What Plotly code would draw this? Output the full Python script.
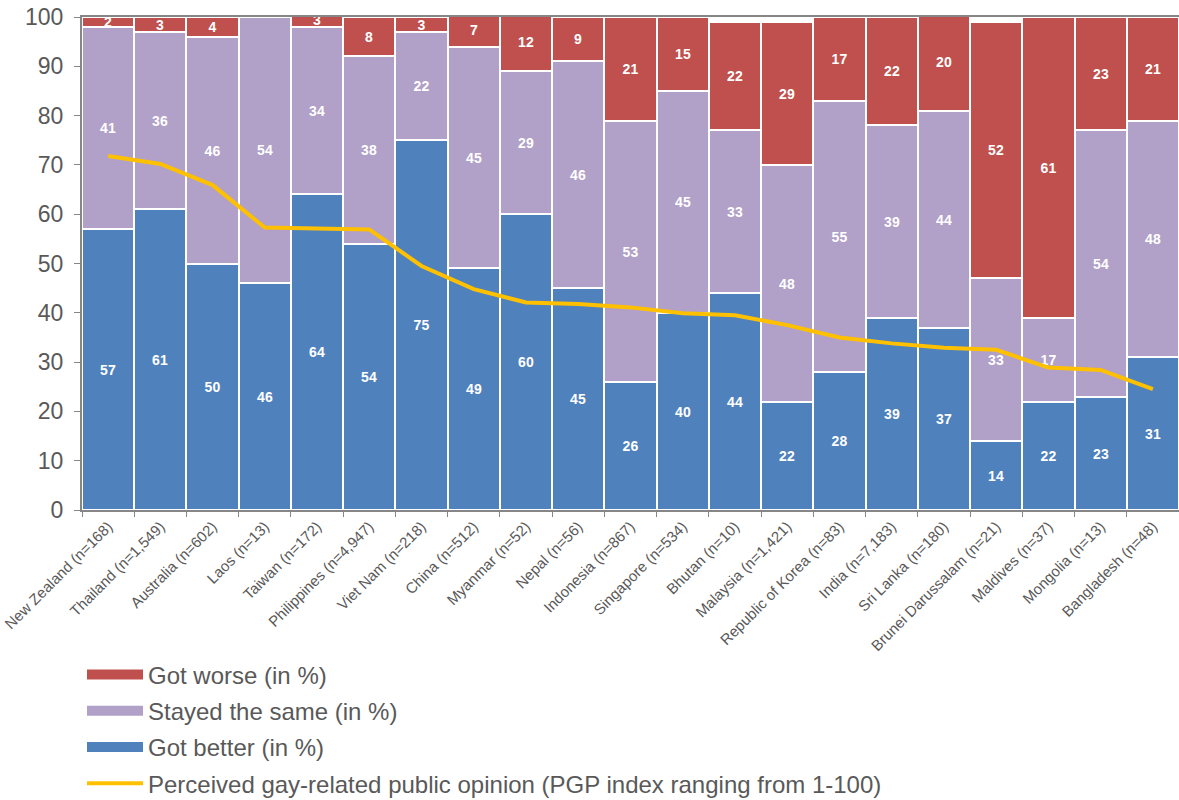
import plotly.graph_objects as go

countries = [
    "New Zealand (n=168)", "Thailand (n=1,549)", "Australia (n=602)", "Laos (n=13)",
    "Taiwan (n=172)", "Philippines (n=4,947)", "Viet Nam (n=218)", "China (n=512)",
    "Myanmar (n=52)", "Nepal (n=56)", "Indonesia (n=867)", "Singapore (n=534)",
    "Bhutan (n=10)", "Malaysia (n=1,421)", "Republic of Korea (n=83)", "India (n=7,183)",
    "Sri Lanka (n=180)", "Brunei Darussalam (n=21)", "Maldives (n=37)",
    "Mongolia (n=13)", "Bangladesh (n=48)",
]
got_better = [57, 61, 50, 46, 64, 54, 75, 49, 60, 45, 26, 40, 44, 22, 28, 39, 37, 14, 22, 23, 31]
stayed_same = [41, 36, 46, 54, 34, 38, 22, 45, 29, 46, 53, 45, 33, 48, 55, 39, 44, 33, 17, 54, 48]
got_worse = [2, 3, 4, 0, 3, 8, 3, 7, 12, 9, 21, 15, 22, 29, 17, 22, 20, 52, 61, 23, 21]
pgp_index = [71.8, 70.2, 65.9, 57.3, 57.1, 56.9, 49.5, 44.8, 42.1, 41.8, 41.1, 39.9,
             39.5, 37.5, 35.0, 33.8, 32.9, 32.5, 28.9, 28.4, 24.5]

FONT = "Liberation Sans, Arial, sans-serif"
GREY = "#595959"
BLUE, PURPLE, RED, GOLD = "#4F81BD", "#B1A0C7", "#C0504D", "#FFC000"

fig = go.Figure()

# stacked bars (legend entries are drawn by the swatch traces below)
for name, values, color in [
    ("Got better (in %)", got_better, BLUE),
    ("Stayed the same (in %)", stayed_same, PURPLE),
    ("Got worse (in %)", got_worse, RED),
]:
    fig.add_trace(go.Bar(
        x=countries, y=values, name=name, showlegend=False,
        marker=dict(color=color, line=dict(color="white", width=2)),
        text=[str(v) if v > 0 else "" for v in values],
        textposition="inside", insidetextanchor="middle", textangle=0,
        textfont=dict(color="white", size=14, family=FONT, weight="bold"),
    ))

fig.add_trace(go.Scatter(
    x=countries, y=pgp_index, mode="lines", showlegend=False,
    name="Perceived gay-related public opinion (PGP index ranging from 1-100)",
    line=dict(color=GOLD, width=4),
))

# legend swatches: wide bands for the bar series, thin line for the index
legend_items = [
    ("Got worse (in %)", RED, 10),
    ("Stayed the same (in %)", PURPLE, 10),
    ("Got better (in %)", BLUE, 10),
    ("Perceived gay-related public opinion (PGP index ranging from 1-100)", GOLD, 4),
]
for rank, (name, color, width) in enumerate(legend_items, start=1):
    fig.add_trace(go.Scatter(
        x=[None], y=[None], mode="lines", name=name,
        line=dict(color=color, width=width),
        legendgroup=f"g{rank}", legendrank=rank, hoverinfo="skip",
    ))

fig.update_layout(
    barmode="stack", bargap=0,
    width=1179, height=800,
    margin=dict(l=82, r=0, t=17, b=290, autoexpand=False),
    plot_bgcolor="white", paper_bgcolor="white",
    font=dict(family=FONT, color=GREY),
    uniformtext=dict(minsize=14, mode="show"),
    showlegend=True,
    legend=dict(
        x=0.0, xanchor="left", y=-0.289, yanchor="top",
        font=dict(size=24, color=GREY), itemwidth=56,
        traceorder="grouped", tracegroupgap=2,
        bgcolor="rgba(0,0,0,0)",
    ),
)
fig.update_xaxes(
    type="category", tickangle=-45, tickfont=dict(size=15, color=GREY),
    showline=True, linecolor="#868686", linewidth=2, mirror=True,
    ticks="outside", tickson="boundaries", ticklen=5, tickcolor="#868686",
    showgrid=False,
)
fig.update_yaxes(
    range=[0, 100], dtick=10, tickfont=dict(size=23, color=GREY),
    showline=True, linecolor="#868686", linewidth=2,
    ticks="outside", ticklen=6, tickcolor="#868686", ticklabelstandoff=6,
    showgrid=False, zeroline=False,
)

fig.write_html("out.html")
